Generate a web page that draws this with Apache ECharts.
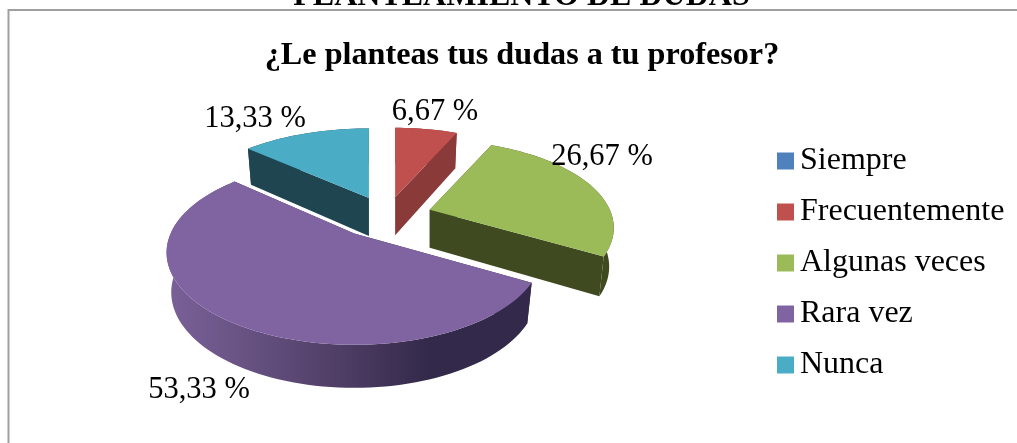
<!DOCTYPE html>
<html><head><meta charset="utf-8">
<style>html,body{margin:0;padding:0;background:#fff}#c{width:1017px;height:443px}</style>
<script src="https://cdn.jsdelivr.net/npm/echarts@6/dist/echarts.min.js"></script>
</head><body><div id="c"></div>
<script>
const categories = ['Siempre','Frecuentemente','Algunas veces','Rara vez','Nunca'];
const percentages = [0, 6.67, 26.67, 53.33, 13.33];

const FONT = '"Liberation Serif","Times New Roman",serif';
const topColors  = ['#4f81bd','#c0504d','#9bbb59','#8064a2','#4bacc6'];
const wallColors = ['#2a4565','#8a3a38','#3f4a20','#33294a','#1f4650'];
// pie layout: centre, radii and perspective of a tilted pie
const CX = 386, CY = 214, RX = 180, RY = 84, K = 0.208;
const explodeX = [0, 44, 46, 54, 42];
const explodeY = [0, 17, 14, 24, 17.5];
const radiusScaleX = [1, 1, 1, 1.02, 1.03];
const radiusScaleY = [1, 1, 1, 1.05, 1];
const sideDepth = [38, 38, 38, 39, 38];
const labelPos = [[0,0],[435,112],[602,157],[199,390],[255,119]];

const total = percentages.reduce((a,b)=>a+b,0);
const starts = []; percentages.reduce((a,v,i)=>{starts[i]=a; return a+v/total*360;},0);

function sliceGeom(i, value){
  const a0 = starts[i], a1 = a0 + value/total*360, mid = (a0+a1)/2*Math.PI/180;
  const ax = CX + explodeX[i]*Math.sin(mid), ay = CY - explodeY[i]*Math.cos(mid);
  const proj = (deg) => {
    const t = deg*Math.PI/180, X = Math.sin(t), Y = Math.cos(t), s = 1/(1+K*Y);
    const x = ax + RX*radiusScaleX[i]*X*s;
    return {x, y: ay - RY*radiusScaleY[i]*Y*s, bx: x + (ax-x)*0.025, d: sideDepth[i]*(1+0.4*(s-1))};
  };
  const arc = [];
  const n = Math.max(2, Math.ceil((a1-a0)/2));
  for (let k=0;k<=n;k++) arc.push(proj(a0+(a1-a0)*k/n));
  const apex = {x:ax, y:ay, bx:ax, d:sideDepth[i]};
  return {arc, apex};
}
function wall(p,q,fill){
  return {type:'polygon', silent:true, shape:{points:[[p.x,p.y],[q.x,q.y],[q.bx,q.y+q.d],[p.bx,p.y+p.d]]}, style:{fill}};
}
function rimFill(i){
  if (i !== 3) return wallColors[i];
  return new echarts.graphic.LinearGradient(0,0,1,0,[
    {offset:0,color:'#7a6198'},{offset:0.25,color:'#64507f'},
    {offset:0.5,color:'#4c3b62'},{offset:0.72,color:'#33294a'},{offset:1,color:'#33294a'}]);
}
function makeRender(i){
  return function(params, api){
    const value = api.value(0);
    if (!value) return {type:'group', children:[]};
    const g = sliceGeom(i, value), arc = g.arc, apex = g.apex;
    const children = [];
    children.push(wall(apex, arc[0], wallColors[i]));
    children.push(wall(apex, arc[arc.length-1], wallColors[i]));
    const rim = arc.map(p=>[p.x,p.y]).concat(arc.slice().reverse().map(p=>[p.bx,p.y+p.d]));
    children.push({type:'polygon', silent:true, shape:{points:rim}, style:{fill:rimFill(i)}});
    const top = [[apex.x,apex.y]].concat(arc.map(p=>[p.x,p.y]));
    children.push({type:'polygon', silent:true, shape:{points:top}, style:{fill:topColors[i]}});
    children.push({type:'text', silent:true, z2:100, style:{
      x:labelPos[i][0], y:labelPos[i][1], text:value.toFixed(2).replace('.',',')+' %',
      font:'30.5px '+FONT, fill:'#000', align:'center', verticalAlign:'middle'}});
    return {type:'group', children};
  };
}
const chart = echarts.init(document.getElementById('c'), null, {renderer:'canvas'});
chart.setOption({
  animation:false,
  backgroundColor:'#fff',
  title:[
    {text:'¿Le planteas tus dudas a tu profesor?', left:517, top:35, textAlign:'center',
     textStyle:{fontFamily:FONT, fontWeight:'bold', fontSize:32.2, color:'#000'}},
    {text:'PLANTEAMIENTO DE DUDAS', left:516.5, top:-24, textAlign:'center',
     textStyle:{fontFamily:FONT, fontWeight:'bold', fontSize:32, color:'#000'}}
  ],
  legend:{
    left:772, top:139, orient:'vertical', icon:'rect', itemWidth:17, itemHeight:17, itemGap:17,
    selectedMode:false, data:categories,
    textStyle:{fontFamily:FONT, fontSize:32, color:'#000', lineHeight:34, padding:[0,0,0,1]}
  },
  graphic:[{type:'rect', silent:true, shape:{x:8.5,y:10,width:1100,height:500},
            style:{fill:'none', stroke:'#a0a0a0', lineWidth:2}, z:-1}],
  series: categories.map((name,i)=>({
    type:'custom', name, coordinateSystem:'none', data:[percentages[i]],
    itemStyle:{color:topColors[i]}, renderItem:makeRender(i)
  }))
});
</script></body></html>
